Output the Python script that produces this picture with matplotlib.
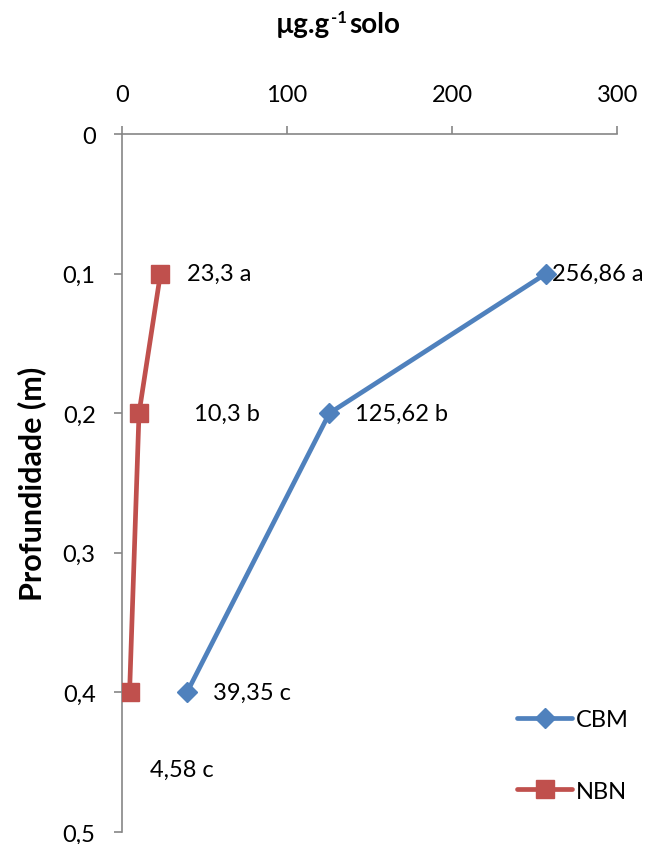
import matplotlib.pyplot as plt

plt.rcParams['font.family'] = ['Lato', 'DejaVu Sans']

# data
depth = [0.1, 0.2, 0.4]
cbm = [256.86, 125.62, 39.35]
nbn = [23.3, 10.3, 4.58]
cbm_labels = ["256,86 a", "125,62 b", "39,35 c"]
nbn_labels = ["23,3 a", "10,3 b", "4,58 c"]
x_ticks = [0, 100, 200, 300]
y_ticks = [0, 0.1, 0.2, 0.3, 0.4, 0.5]
y_tick_labels = ["0", "0,1", "0,2", "0,3", "0,4", "0,5"]

blue = "#4F81BD"
red = "#C0504D"
grey = "#868686"
fs = 17

fig = plt.figure(figsize=(6.49, 8.45), dpi=100)
ax = fig.add_axes([0.188, 0.0142, 0.763, 0.826])

ax.plot(cbm, depth, color=blue, lw=3.4, marker="D", ms=10, label="CBM",
        solid_capstyle="round", zorder=3)
ax.plot(nbn, depth, color=red, lw=3.4, marker="s", ms=13.5, label="NBN",
        solid_capstyle="round", zorder=3)

# data labels
cbm_offsets = [(6, 0), (26, 0), (26, 0)]
nbn_offsets = [(27, 0), (55, 0), (20, -77)]
for xv, yv, s, off in zip(cbm, depth, cbm_labels, cbm_offsets):
    ax.annotate(s, (xv, yv), xytext=off, textcoords="offset pixels",
                ha="left", va="center", fontsize=fs)
for xv, yv, s, off in zip(nbn, depth, nbn_labels, nbn_offsets):
    ax.annotate(s, (xv, yv), xytext=off, textcoords="offset pixels",
                ha="left", va="center", fontsize=fs)

ax.set_xlim(0, 300)
ax.set_ylim(0.5, 0)
ax.xaxis.tick_top()
ax.set_xticks(x_ticks)
ax.set_yticks(y_ticks)
ax.set_yticklabels(y_tick_labels)

for side in ["right", "bottom"]:
    ax.spines[side].set_visible(False)
for side in ["left", "top"]:
    ax.spines[side].set_color(grey)
    ax.spines[side].set_linewidth(1.2)

ax.tick_params(axis="x", direction="out", length=6, width=1.2, color=grey,
               labelsize=fs, pad=15)
ax.tick_params(axis="y", direction="out", length=6, width=1.2, color=grey,
               labelsize=fs, pad=13)

ax.set_ylabel("Profundidade (m)", fontsize=22, fontweight="bold", labelpad=12)

# title in pieces so the superscript keeps a plain hyphen
fig.text(330 / 649, 0.970, "µg.g", ha="right", va="center",
         fontsize=20, fontweight="bold")
fig.text(331 / 649, 0.979, "-1", ha="left", va="center",
         fontsize=12, fontweight="bold")
fig.text(349 / 649, 0.970, "solo", ha="left", va="center",
         fontsize=20, fontweight="bold")

leg = ax.legend(loc="lower right", bbox_to_anchor=(1.066, 0.013), frameon=False,
                fontsize=fs, labelspacing=2.15, handlelength=2.3,
                handletextpad=0.17)

fig.savefig("out.png", dpi=100)
